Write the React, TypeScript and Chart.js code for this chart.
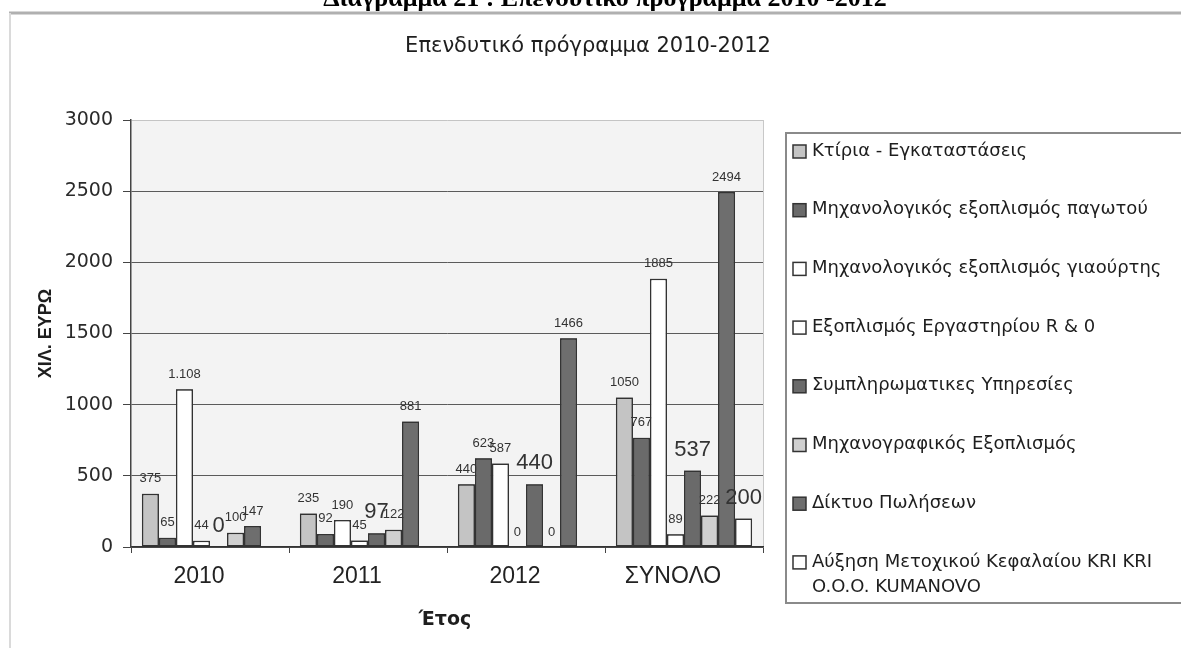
import React, { useEffect, useRef } from "react";
import { Chart, registerables } from "chart.js";

Chart.register(...registerables);

const caption = "Διάγραμμα 21 : Επενδυτικό πρόγραμμα 2010 -2012";
const chartTitle = "Επενδυτικό πρόγραμμα 2010-2012";
const yTitle = "ΧΙΛ. ΕΥΡΩ";
const xTitle = "Έτος";

const categories = ["2010", "2011", "2012", "ΣΥΝΟΛΟ"];
const seriesNames = [
  "Κτίρια - Εγκαταστάσεις",
  "Μηχανολογικός εξοπλισμός παγωτού",
  "Μηχανολογικός εξοπλισμός γιαούρτης",
  "Εξοπλισμός Εργαστηρίου R & 0",
  "Συμπληρωματικες Υπηρεσίες",
  "Μηχανογραφικός Εξοπλισμός",
  "Δίκτυο Πωλήσεων",
  "Αύξηση Μετοχικού Κεφαλαίου KRI KRI\nO.O.O. KUMANOVO",
];
const ktiria = [375, 235, 440, 1050];
const pagotou = [65, 92, 623, 767];
const giaourtis = [1108, 190, 587, 1885];
const ergastiriou = [44, 45, 0, 89];
const sympliromatikes = [0, 97, 440, 537];
const michanografikos = [100, 122, 0, 222];
const diktyo = [147, 881, 1466, 2494];
const afxisi = [0, 0, 0, 200];
const yTicks = [0, 500, 1000, 1500, 2000, 2500, 3000];

const seriesValues = [ktiria, pagotou, giaourtis, ergastiriou, sympliromatikes, michanografikos, diktyo, afxisi];
const fills = ["#c4c4c4", "#6a6a6a", "#ffffff", "#ffffff", "#6a6a6a", "#d0d0d0", "#6e6e6e", "#ffffff"];
const bigLabelSeries = [4, 7];
const hideZeroSeries = [7];

function labelText(v: number, si: number, ci: number): string {
  if (si === 2 && ci === 0) return v.toLocaleString("de-DE");
  return String(v);
}

const decor = {
  id: "decor",
  beforeDraw(chart: any) {
    const { ctx, chartArea: a } = chart;
    ctx.save();
    ctx.fillStyle = "#ffffff";
    ctx.fillRect(0, 0, chart.width, chart.height);

    // outer frame
    ctx.strokeStyle = "#b0b0b0";
    ctx.lineWidth = 3;
    ctx.beginPath();
    ctx.moveTo(9, 13);
    ctx.lineTo(chart.width, 13);
    ctx.stroke();
    ctx.strokeStyle = "#dadada";
    ctx.lineWidth = 2;
    ctx.beginPath();
    ctx.moveTo(10, 13);
    ctx.lineTo(10, chart.height);
    ctx.stroke();

    // clipped caption at the very top
    ctx.fillStyle = "#000";
    ctx.font = "bold 26px 'Liberation Serif'";
    ctx.textAlign = "center";
    ctx.textBaseline = "alphabetic";
    ctx.fillText(caption, 605, 6);

    // plot background
    ctx.fillStyle = "#f3f3f3";
    ctx.fillRect(a.left, a.top, a.right - a.left, a.bottom - a.top);
    ctx.strokeStyle = "#c8c8c8";
    ctx.lineWidth = 1;
    ctx.beginPath();
    ctx.moveTo(a.right + 0.5, a.top);
    ctx.lineTo(a.right + 0.5, a.bottom);
    ctx.stroke();

    // chart title
    ctx.fillStyle = "#1e1e1e";
    ctx.font = "21px 'DejaVu Sans'";
    ctx.textAlign = "center";
    ctx.textBaseline = "middle";
    ctx.fillText(chartTitle, 588, 47);

    // axis titles
    ctx.font = "bold 18px 'Liberation Sans'";
    ctx.save();
    ctx.translate(46, (a.top + a.bottom) / 2);
    ctx.rotate(-Math.PI / 2);
    ctx.fillText(yTitle, 0, 0);
    ctx.restore();
    ctx.font = "bold 19px 'DejaVu Sans'";
    ctx.fillText(xTitle, 445, 620);

    // legend
    ctx.strokeStyle = "#8a8a8a";
    ctx.lineWidth = 2;
    ctx.strokeRect(786, 133, 420, 470);
    ctx.font = "18px 'DejaVu Sans'";
    ctx.textAlign = "left";
    ctx.textBaseline = "middle";
    seriesNames.forEach((name, i) => {
      const cy = 151 + i * 58.7;
      ctx.fillStyle = fills[i];
      ctx.fillRect(793, cy - 6, 13, 13);
      ctx.strokeStyle = "#333";
      ctx.lineWidth = 1.5;
      ctx.strokeRect(793, cy - 6, 13, 13);
      ctx.fillStyle = "#1e1e1e";
      name.split("\n").forEach((line, k) => ctx.fillText(line, 812, cy + k * 25));
    });
    ctx.restore();
  },
  afterDatasetsDraw(chart: any) {
    const { ctx, chartArea } = chart;
    ctx.save();
    chart.data.datasets.forEach((ds: any, si: number) => {
      const meta = chart.getDatasetMeta(si);
      meta.data.forEach((el: any) => el.draw(ctx, chartArea));
      const big = bigLabelSeries.includes(si);
      ctx.font = big ? "22px 'Liberation Sans'" : "13px 'Liberation Sans'";
      ctx.fillStyle = "#333";
      ctx.textAlign = "center";
      ctx.textBaseline = "middle";
      meta.data.forEach((el: any, ci: number) => {
        const v = ds.data[ci];
        if (v === 0 && hideZeroSeries.includes(si)) return;
        const { x, y } = el.getProps(["x", "y"], true);
        ctx.fillText(labelText(v, si, ci), x, y - (big ? 21 : 15));
      });
    });
    ctx.restore();
  },
};

export default function App() {
  const ref = useRef<HTMLCanvasElement>(null);
  useEffect(() => {
    const canvas = ref.current!;
    const chart = new Chart(canvas, {
      type: "bar",
      data: {
        labels: categories,
        datasets: seriesNames.map((n, i) => ({
          label: n,
          data: seriesValues[i],
          backgroundColor: fills[i],
          borderColor: "#333",
          borderWidth: 1.5,
          borderSkipped: false,
          categoryPercentage: 0.862,
          barPercentage: 1,
        })),
      },
      options: {
        responsive: false,
        animation: false,
        devicePixelRatio: 1,
        layout: { padding: { left: 0, top: 120, right: 418, bottom: 0 } },
        plugins: {
          legend: { display: false },
          title: { display: false },
          tooltip: { enabled: false },
        },
        scales: {
          x: {
            afterFit: (s: any) => {
              s.height = 101;
            },
            grid: { display: true, drawOnChartArea: false, offset: true, tickLength: 6, tickColor: "#444" },
            border: { display: true, color: "#333", width: 1.5 },
            ticks: {
              font: { family: "Liberation Sans", size: 23 },
              color: "#222",
              padding: 10,
              labelOffset: -11,
              maxRotation: 0,
            },
          },
          y: {
            min: 0,
            max: 3000,
            afterFit: (s: any) => {
              s.width = 131;
            },
            afterBuildTicks: (s: any) => {
              s.ticks = yTicks.map((v) => ({ value: v }));
            },
            grid: {
              color: (c: any) => (c.tick && c.tick.value === 3000 ? "#c4c4c4" : "#5a5a5a"),
              lineWidth: 1,
              tickLength: 8,
              tickColor: "#444",
            },
            border: { display: true, color: "#444", width: 1.5 },
            ticks: {
              font: { family: "DejaVu Sans", size: 19 },
              color: "#2a2a2a",
              padding: 10,
              callback: (v: any) => String(v),
            },
          },
        },
      },
      plugins: [decor],
    } as any);
    return () => chart.destroy();
  }, []);
  return (
    <div style={{ position: "absolute", left: 0, top: 0, width: 1181, height: 648 }}>
      <canvas ref={ref} width={1181} height={648} style={{ display: "block" }} />
    </div>
  );
}
